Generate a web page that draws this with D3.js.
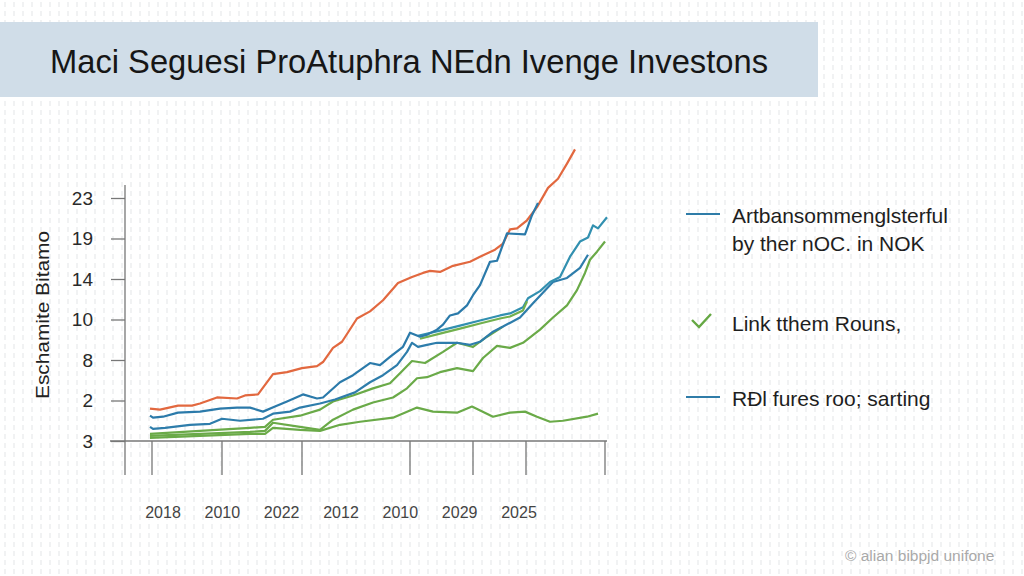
<!DOCTYPE html>
<html>
<head>
<meta charset="utf-8">
<script src="https://cdn.jsdelivr.net/npm/d3@7.9.0/dist/d3.min.js"></script>
<style>
  html, body { margin: 0; padding: 0; background: #fff; }
  svg { display: block; font-family: "Liberation Sans", Arial, sans-serif; }
</style>
</head>
<body>
<svg id="chart" width="1024" height="576"></svg>
<script>
// x = period (0..92), y = value
const redT   = [0,2,5.6,8.4,10,13.4,17.4,19,21.6,24.6,27.4,30.4,33.4,34.6,36.6,38.4,41.4,44,46.6,49.6,52.4,54.6,56,58,60.6,64,66,69,70.6,72,73.4,75.4,77.4,79.6,81.6,83.4,85];
const redV   = [3.2,3.1,3.5,3.5,3.7,4.3,4.2,4.5,4.6,6.6,6.8,7.2,7.4,7.8,9.2,9.8,12.1,12.8,13.9,15.6,16.2,16.6,16.8,16.7,17.3,17.7,18.2,18.9,19.5,20.9,21.0,21.8,23.1,25.0,25.9,27.4,28.8];

const blue1T = [0,0.6,2.6,5.6,10,14,17.4,20,22.6,25,27.4,30.6,33.4,34.6,38,40.6,44,46,48,50.6,52,54,55.4,57.4,58.6,60,61.6,63.4,64.6,66,68,69.4,71.4,75,76.4,77.6];
const blue1V = [2.5,2.3,2.4,2.8,2.9,3.2,3.3,3.3,2.9,3.4,3.9,4.6,4.2,4.3,5.8,6.5,7.7,7.5,8.3,9.3,10.7,10.3,10.5,11.0,11.5,12.4,12.6,13.4,14.4,15.4,17.7,17.8,20.5,20.4,22.3,23.5];

const blue2T = [0,0.6,3,8,12,14.4,18,22.6,24.6,28,30,34,37,41,44,46.6,49.4,51.4,52.4,53.6,55.4,57.4,61.4,64,66,68.6,70.6,74,76.6,80.6,83.4,86,87.6];
const blue2V = [1.4,1.2,1.3,1.6,1.7,2.2,2.0,2.2,2.7,2.9,3.3,3.7,4.1,4.8,5.8,6.5,7.5,8.8,9.7,9.3,9.5,9.7,9.7,9.5,9.8,10.8,11.3,12.2,13.6,15.7,16.1,17.1,18.4];

const blue3T = [53.6,58,62,66,70,72,74.6,75.6,78,80,82,84,86,87.6,88.6,89.6,91.4];
const blue3V = [10.4,10.9,11.4,11.9,12.4,12.6,13.2,14.1,14.8,15.7,16.2,18.2,19.7,20.1,21.3,21.0,22.1];

const greenAT = [0,10,20,23,24.6,30,34,36.6,40.6,44.6,48,50,52.4,55,58.6,61.4,64.6,67.4,70.6];
const greenAV = [0.7,1.0,1.3,1.4,2.1,2.5,3.1,3.9,4.5,5.2,5.7,6.7,7.9,7.7,8.8,9.7,9.3,10.3,11.3];

const greenBT = [0,10,20,23,24.6,30,34,36.6,40.6,44.6,48.6,51.4,53.4,55.4,58,61.4,64.6,66.6,69.4,72,74.6,78,80.6,83.4,85.4,87,88,89.4,91];
const greenBV = [0.5,0.7,0.9,1.0,1.8,1.4,1.1,2.1,3.1,3.8,4.3,5.2,6.2,6.3,6.8,7.2,6.9,8.2,9.4,9.2,9.7,11.0,12.2,13.4,14.9,16.6,17.9,18.7,19.7];

const greenCT = [0,10,20,23,24.6,30,34,38,42,48.6,53.4,56.6,61.4,64.4,68.6,72,75,77.4,80,82.6,87.4,89.6];
const greenCV = [0.3,0.5,0.7,0.7,1.3,1.1,1.0,1.6,1.9,2.3,3.3,2.9,2.8,3.4,2.4,2.8,2.9,2.4,1.9,2.0,2.4,2.7];

const greenDT = [54,58,62,66,70,72,74.6,75.4];
const greenDV = [10.1,10.6,11.1,11.6,12.1,12.3,12.9,13.8];

const yTickValues = [0,4,8,12,16,20,24];
const yTickLabels = ['3','2','8','10','14','19','23'];
const xTickValues = [0.4,14.4,30.4,52,64.6,75.2,91];
const xLabels = ['2018','2010','2022','2012','2010','2029','2025'];

const title = 'Maci Seguesi ProAtuphra NEdn Ivenge Investons';
const yTitle = 'Eschamite Bitamo';
const legendItems = [
  { lines: ['Artbansommenglsterful', 'by ther nOC. in NOK'], mark: 'line', color: '#2f7ca8' },
  { lines: ['Link tthem Rouns,'], mark: 'check', color: '#66a844' },
  { lines: ['RÐl fures roo; sarting'], mark: 'line', color: '#2f7ca8' }
];
const credit = '© alian bibpjd unifone';

const series = [
  { t: greenCT, v: greenCV, color: '#6aaa48' },
  { t: greenBT, v: greenBV, color: '#6aaa48' },
  { t: greenAT, v: greenAV, color: '#6aaa48' },
  { t: blue2T,  v: blue2V,  color: '#2e7dab' },
  { t: blue3T,  v: blue3V,  color: '#3290b0' },
  { t: greenDT, v: greenDV, color: '#72b04e' },
  { t: redT,    v: redV,    color: '#e2683f' },
  { t: blue1T,  v: blue1V,  color: '#2b7aaa' }
];

let svg = d3.select('#chart');

// faint dotted backdrop
let defs = svg.append('defs');
let pat = defs.append('pattern')
  .attr('id', 'dots').attr('width', 9).attr('height', 9)
  .attr('patternUnits', 'userSpaceOnUse');
pat.append('rect').attr('width', 9).attr('height', 9).attr('fill', '#ffffff');
pat.append('rect').attr('x', 4).attr('y', 2).attr('width', 2).attr('height', 5).attr('fill', '#f1f2f3');
svg.append('rect').attr('width', 1024).attr('height', 576).attr('fill', 'url(#dots)');

// title banner
svg.append('rect')
  .attr('x', 0).attr('y', 22).attr('width', 818).attr('height', 75)
  .attr('fill', '#d0dde8');
svg.append('text')
  .attr('x', 50).attr('y', 73)
  .attr('font-size', 33)
  .attr('fill', '#161616')
  .attr('textLength', 718)
  .attr('lengthAdjust', 'spacingAndGlyphs')
  .text(title);

let x = d3.scaleLinear().domain([0, 92]).range([150, 610]);
let y = d3.scaleLinear().domain([0, 24]).range([441, 198]);

// y axis
let yAxis = svg.append('g')
  .attr('transform', 'translate(125,0)')
  .call(d3.axisLeft(y)
    .tickValues(yTickValues)
    .tickSize(14)
    .tickPadding(18)
    .tickFormat((d, i) => yTickLabels[i]));
yAxis.select('.domain').remove();
yAxis.selectAll('line').attr('stroke', '#777').attr('stroke-width', 1.3);
yAxis.selectAll('text').attr('font-size', 19).attr('fill', '#2a2a2a')
  .attr('font-family', '"Liberation Sans", Arial, sans-serif');

svg.append('line')
  .attr('x1', 125).attr('x2', 125).attr('y1', 185).attr('y2', 475)
  .attr('stroke', '#777').attr('stroke-width', 1.3);
svg.append('line')
  .attr('x1', 110).attr('x2', 607).attr('y1', y(0)).attr('y2', y(0))
  .attr('stroke', '#777').attr('stroke-width', 1.3);

// x ticks hanging below the baseline
svg.append('g').selectAll('line')
  .data(xTickValues)
  .join('line')
  .attr('x1', d => x(d)).attr('x2', d => x(d))
  .attr('y1', y(0)).attr('y2', 475)
  .attr('stroke', '#777').attr('stroke-width', 1.3);

let xl = d3.scalePoint().domain(d3.range(xLabels.length)).range([163, 519]);
svg.append('g').selectAll('text')
  .data(xLabels)
  .join('text')
  .attr('x', (d, i) => xl(i))
  .attr('y', 518)
  .attr('text-anchor', 'middle')
  .attr('font-size', 16)
  .attr('fill', '#444')
  .text(d => d);

svg.append('text')
  .attr('transform', 'translate(49,315) rotate(-90)')
  .attr('text-anchor', 'middle')
  .attr('font-size', 19)
  .attr('fill', '#222')
  .attr('textLength', 168)
  .attr('lengthAdjust', 'spacingAndGlyphs')
  .text(yTitle);

// series
let line = d3.line()
  .x(d => x(d[0]))
  .y(d => y(d[1]));

series.forEach(s => {
  svg.append('path')
    .datum(d3.zip(s.t, s.v))
    .attr('d', line)
    .attr('fill', 'none')
    .attr('stroke', s.color)
    .attr('stroke-width', 2.2)
    .attr('stroke-linejoin', 'round');
});

// legend
let legendY = [223, 331, 406];
legendItems.forEach((item, i) => {
  let g = svg.append('g').attr('transform', `translate(0,${legendY[i]})`);
  if (item.mark === 'line') {
    g.append('line')
      .attr('x1', 686).attr('x2', 720).attr('y1', -9).attr('y2', -9)
      .attr('stroke', item.color).attr('stroke-width', 2.2);
  } else {
    g.append('path')
      .attr('d', 'M692,-11 L699,-4 L711,-17')
      .attr('fill', 'none')
      .attr('stroke', item.color).attr('stroke-width', 2.4);
  }
  item.lines.forEach((t, j) => {
    g.append('text')
      .attr('x', 732).attr('y', j * 28)
      .attr('font-size', 21)
      .attr('fill', '#1e1e1e')
      .text(t);
  });
});

svg.append('text')
  .attr('x', 845).attr('y', 561)
  .attr('font-size', 15.5)
  .attr('fill', '#a9a9a9')
  .text(credit);
</script>
</body>
</html>
